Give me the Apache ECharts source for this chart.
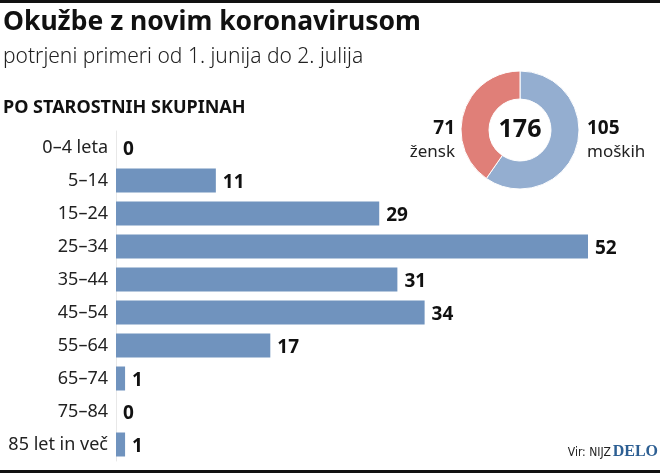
<!DOCTYPE html>
<html><head><meta charset="utf-8">
<script src="https://cdn.jsdelivr.net/npm/echarts@6/dist/echarts.min.js"></script>
<style>html,body{margin:0;padding:0;background:#fff}#c{width:660px;height:473px}</style>
</head><body><div id="c"></div>
<script>
const categories = ['0–4 leta','5–14','15–24','25–34','35–44','45–54','55–64','65–74','75–84','85 let in več'];
const values = [0,11,29,52,31,34,17,1,0,1];
const genderNames = ['moških','žensk'];
const genderValues = [105,71];
const total = genderValues.reduce((a,b)=>a+b,0);
const F = '"Noto Sans", "Open Sans", sans-serif';

const chart = echarts.init(document.getElementById('c'));
chart.setOption({
  animation:false,
  backgroundColor:'#fff',
  grid:{left:116,right:72,top:131,bottom:12},
  xAxis:{type:'value',min:0,max:52,show:false},
  yAxis:{type:'category',data:categories,inverse:true,
    axisLine:{show:true,lineStyle:{color:'#e8e8e8',width:1}},
    axisTick:{show:false},
    axisLabel:{color:'#222',fontSize:18,fontFamily:F,margin:8}},
  series:[
    {type:'bar',data:values,barWidth:24,itemStyle:{color:'#7093be'},
     label:{show:true,position:'right',distance:7,color:'#111',fontSize:19,fontWeight:'bold',fontFamily:F,offset:[0,2]}},
    {type:'pie',center:[520,130],radius:[31,59],startAngle:90,clockwise:true,
     label:{show:false},labelLine:{show:false},
     itemStyle:{borderColor:'#fff',borderWidth:1},
     data:[{name:genderNames[0],value:genderValues[0],itemStyle:{color:'#94aed0'}},
           {name:genderNames[1],value:genderValues[1],itemStyle:{color:'#e07f78'}}]}
  ],
  graphic:[
    {type:'rect',shape:{x:0,y:0,width:660,height:3},style:{fill:'#111'}},
    {type:'rect',shape:{x:0,y:470,width:660,height:3},style:{fill:'#111'}},
    {type:'text',left:3,top:9,style:{text:'Okužbe z novim koronavirusom',fontSize:26.5,fontWeight:'bold',fill:'#111',fontFamily:F}},
    {type:'text',left:3,top:47,style:{text:'potrjeni primeri od 1. junija do 2. julija',fontSize:21,fontWeight:300,fill:'#222',fontFamily:F}},
    {type:'text',left:3,top:99,style:{text:'PO STAROSTNIH SKUPINAH',fontSize:18,fontWeight:'bold',fill:'#111',fontFamily:F}},
    {type:'text',x:520,y:130,style:{text:String(total),fontSize:25,fontWeight:'bold',fill:'#111',fontFamily:F,align:'center',verticalAlign:'middle'}},
    {type:'text',x:455,y:129,style:{text:String(genderValues[1]),fontSize:19,fontWeight:'bold',fill:'#111',fontFamily:F,align:'right',verticalAlign:'middle'}},
    {type:'text',x:455,y:152,style:{text:genderNames[1],fontSize:17,fill:'#222',fontFamily:F,align:'right',verticalAlign:'middle'}},
    {type:'text',x:587,y:129,style:{text:String(genderValues[0]),fontSize:19,fontWeight:'bold',fill:'#111',fontFamily:F,align:'left',verticalAlign:'middle'}},
    {type:'text',x:587,y:152,style:{text:genderNames[0],fontSize:17,fill:'#222',fontFamily:F,align:'left',verticalAlign:'middle'}},
    {type:'text',x:611,y:453,style:{text:'Vir: NIJZ',fontSize:12,fill:'#222',fontFamily:'"Liberation Sans Narrow", "DejaVu Sans Condensed", sans-serif',align:'right',verticalAlign:'middle'}},
    {type:'text',x:658,y:452,style:{text:'DELO',fontSize:16,fontWeight:'bold',fill:'#2d5f93',fontFamily:'"Liberation Serif", "DejaVu Serif", serif',align:'right',verticalAlign:'middle'}}
  ]
});
</script></body></html>
